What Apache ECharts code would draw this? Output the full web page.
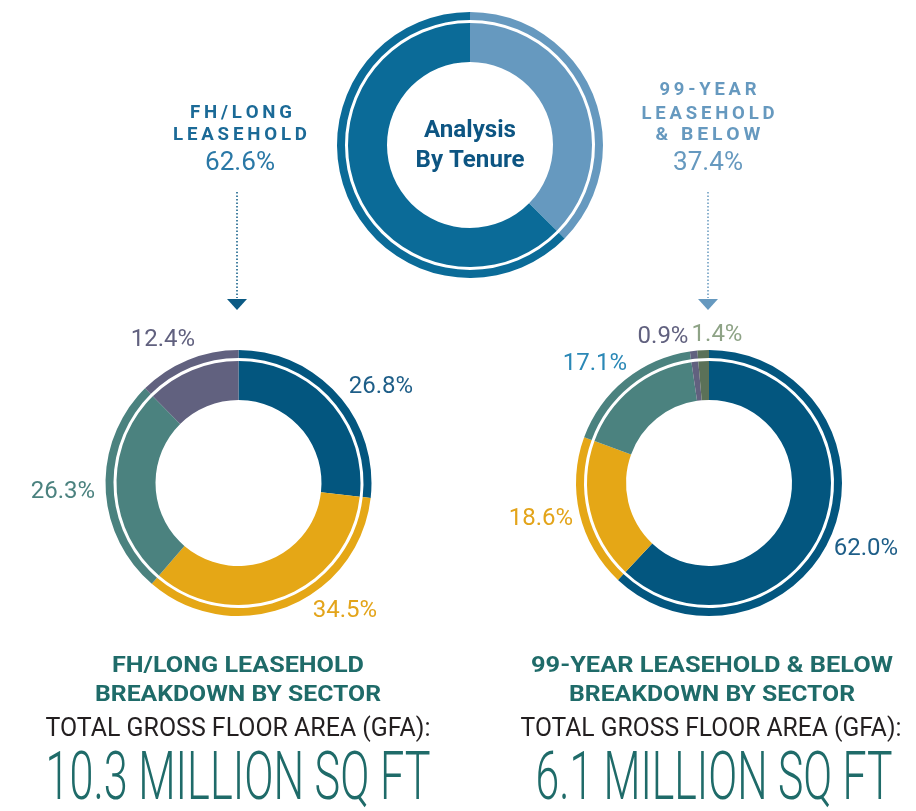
<!DOCTYPE html>
<html>
<head>
<meta charset="utf-8">
<script src="https://cdn.jsdelivr.net/npm/echarts@6/dist/echarts.min.js"></script>
<style>
  html, body { margin: 0; padding: 0; background: #fff; }
  #chart { width: 916px; height: 811px; }
</style>
</head>
<body>
<div id="chart"></div>
<script>
// tenure split (top ring), values in %
const tenureNames = ["99-YEAR\nLEASEHOLD\n& BELOW", "FH/LONG\nLEASEHOLD"];
const tenureValues = [37.4, 62.6];

// FH / long leasehold breakdown by sector, %
const fhSectors = ["Sector A", "Sector B", "Sector C", "Sector D"];
const fhValues = [26.8, 34.5, 26.3, 12.4];

// 99-year leasehold & below breakdown by sector, %
const lhSectors = ["Sector A", "Sector B", "Sector C", "Sector D", "Sector E"];
const lhValues = [62.0, 18.6, 17.1, 0.9, 1.4];

const gfaTotals = ["10.3 MILLION SQ FT", "6.1 MILLION SQ FT"];

// styling
const tenureColors = ["#6699bf", "#0b6b98"];
const sectorColors = {
    "Sector A": "#03567f",
    "Sector B": "#e5a716",
    "Sector C": "#4b827f",
    "Sector D": "#61617f",
    "Sector E": "#5b7158",
};
const fhLabelColors = ["#1e5e88", "#e3a41a", "#4b827f", "#61617f"];
const lhLabelColors = ["#1e5e88", "#e3a41a", "#2b88b6", "#61617f", "#8ea386"];
const fhLabelPos = [[381, 387], [345, 611], [63, 492], [163, 340]];
const lhLabelPos = [[866, 549], [541, 519], [595, 364], [663, 337], [717, 335]];

const INNER = [83, 122];
const OUTER = [125, 133];
const TEAL = "#1f6b69";

const chart = echarts.init(document.getElementById("chart"));

function ringPair(center, names, values, colors, labelPos, labelColors) {
    const data = names.map((n, i) => ({
        name: n,
        value: values[i],
        itemStyle: { color: colors[i] },
        label: { color: labelColors ? labelColors[i] : "#000" },
    }));
    const base = {
        type: "pie",
        center: center,
        startAngle: 90,
        clockwise: true,
        silent: true,
        animation: false,
        avoidLabelOverlap: false,
        labelLine: { show: false },
        emphasis: { disabled: true },
    };
    return [
        Object.assign({}, base, {
            radius: INNER,
            data: data,
            label: {
                show: !!labelPos,
                position: "outside",
                fontFamily: "Roboto",
                fontSize: 24,
                formatter: (p) => p.value.toFixed(1) + "%",
            },
            labelLayout: labelPos
                ? (p) => ({
                      x: labelPos[p.dataIndex][0],
                      y: labelPos[p.dataIndex][1],
                      align: "center",
                      verticalAlign: "middle",
                  })
                : undefined,
        }),
        Object.assign({}, base, {
            radius: OUTER,
            data: data.map((d) => ({ name: d.name, value: d.value, itemStyle: d.itemStyle })),
            label: { show: false },
        }),
    ];
}

// text helpers
const measureCtx = document.createElement("canvas").getContext("2d");
function fitScale(text, font, width) {
    measureCtx.font = font;
    return width / measureCtx.measureText(text).width;
}
function spaced(s) {
    return s.split("").join("\u2009");
}
function text(str, x, y, font, color, width) {
    return {
        type: "text",
        x: x,
        y: y,
        scaleX: width ? fitScale(str, font, width) : 1,
        silent: true,
        style: { text: str, font: font, fill: color, align: "center", verticalAlign: "middle" },
    };
}
function arrow(x, y1, y2, color) {
    return [
        {
            type: "line",
            silent: true,
            shape: { x1: x, y1: y1, x2: x, y2: y2 },
            style: { stroke: color, lineWidth: 1.5, lineDash: [1.5, 2] },
        },
        {
            type: "polygon",
            silent: true,
            shape: { points: [[x - 10, y2 + 1], [x + 10, y2 + 1], [x, y2 + 12]] },
            style: { fill: color },
        },
    ];
}

const fhLines = tenureNames[1].split("\n");
const lhLines = tenureNames[0].split("\n");
const smallBold = "bold 18px Roboto";
const pctFont = "25px Roboto";
const bigFont = "300 66px Roboto";

const graphics = [
    text("Analysis", 470, 131, "bold 23px Roboto", "#0d5582", 92),
    text("By Tenure", 470, 161, "bold 23px Roboto", "#0d5582", 109),

    // FH / long leasehold tenure label
    text(spaced(fhLines[0]), 241, 113, smallBold, "#1b6a97", 102),
    text(spaced(fhLines[1]), 240, 135, smallBold, "#1b6a97", 134),
    text(tenureValues[1].toFixed(1) + "%", 240, 164, pctFont, "#2a78a6", 70),
    ...arrow(237, 192, 298, "#0b5a84"),

    // 99-year tenure label
    text(spaced(lhLines[0]), 708, 90, smallBold, tenureColors[0], 97),
    text(spaced(lhLines[1]), 708, 114, smallBold, tenureColors[0], 133),
    text(spaced(lhLines[2]), 708, 135, smallBold, tenureColors[0], 105),
    text(tenureValues[0].toFixed(1) + "%", 708, 164, pctFont, tenureColors[0], 70),
    ...arrow(708, 192, 298, tenureColors[0]),

    // bottom captions
    text(tenureNames[1].replace(/\n/g, " "), 238, 666, "bold 22px Roboto", TEAL, 252),
    text("BREAKDOWN BY SECTOR", 238, 695, "bold 22px Roboto", TEAL, 286),
    text("TOTAL GROSS FLOOR AREA (GFA):", 238, 730, "25px Roboto", "#231f20", 385),
    text(gfaTotals[0], 238, 782, bigFont, TEAL, 385),

    text(tenureNames[0].replace(/\n/g, " "), 712, 666, "bold 22px Roboto", TEAL, 362),
    text("BREAKDOWN BY SECTOR", 712, 695, "bold 22px Roboto", TEAL, 286),
    text("TOTAL GROSS FLOOR AREA (GFA):", 711, 730, "25px Roboto", "#231f20", 381),
    text(gfaTotals[1], 714, 782, bigFont, TEAL, 357),
];

chart.setOption({
    backgroundColor: "#fff",
    animation: false,
    series: [
        ...ringPair([470, 145], ["99-year", "FH/long"], tenureValues, tenureColors, null, null),
        ...ringPair([238.5, 483], fhSectors, fhValues, fhSectors.map((s) => sectorColors[s]), fhLabelPos, fhLabelColors),
        ...ringPair([709, 483], lhSectors, lhValues, lhSectors.map((s) => sectorColors[s]), lhLabelPos, lhLabelColors),
    ],
    graphic: graphics,
});
</script>
</body>
</html>
